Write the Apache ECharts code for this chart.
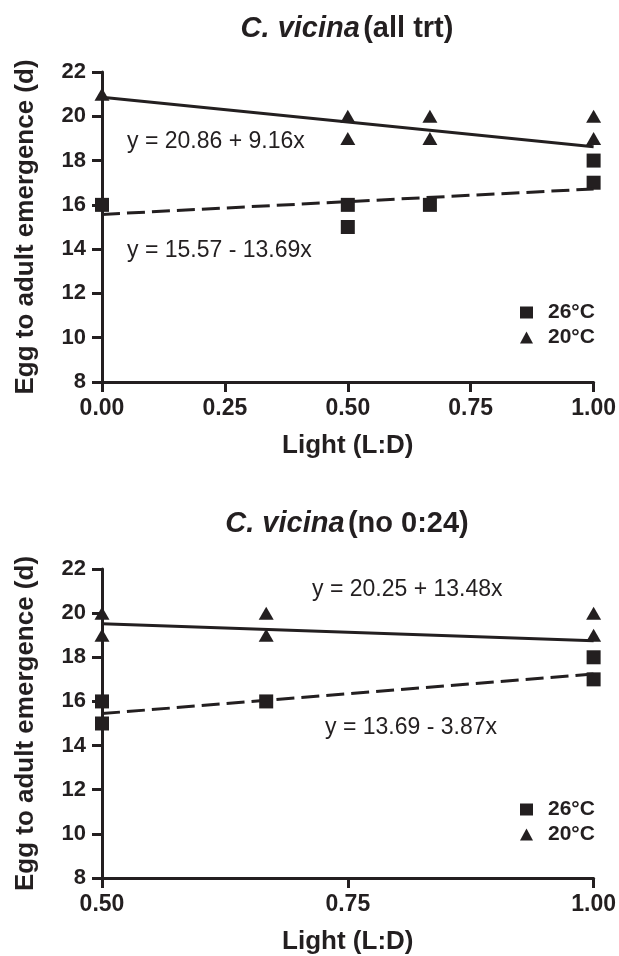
<!DOCTYPE html>
<html>
<head>
<meta charset="utf-8">
<script src="https://cdn.jsdelivr.net/npm/echarts@6/dist/echarts.min.js"></script>
<style>
html,body{margin:0;padding:0;background:#fff;}
#c{width:619px;height:956px;}
</style>
</head>
<body>
<div id="c"></div>
<script>
// ---- data ----
const seriesNames = ['26°C', '20°C'];
const topXTicks = [0, 0.25, 0.5, 0.75, 1];
const botXTicks = [0.5, 0.75, 1];
const yTicks = [8, 10, 12, 14, 16, 18, 20, 22];

const top26 = [[0,16],[0.5,16],[0.5,15],[0.667,16],[1,18],[1,17]];
const top20 = [[0,21],[0.5,20],[0.5,19],[0.667,20],[0.667,19],[1,20],[1,19]];
const topFit26 = [[0,15.57],[1,16.72]];
const topFit20 = [[0,20.86],[1,18.62]];

const bot26 = [[0.5,16],[0.5,15],[0.667,16],[1,18],[1,17]];
const bot20 = [[0.5,20],[0.5,19],[0.667,20],[0.667,19],[1,20],[1,19]];
const botFit26 = [[0.5,15.45],[1,17.24]];
const botFit20 = [[0.5,19.52],[1,18.75]];

const titles = [['C. vicina', '(all trt)'], ['C. vicina', '(no 0:24)']];
const eqTop = ['y = 20.86 + 9.16x', 'y = 15.57 - 13.69x'];
const eqBot = ['y = 20.25 + 13.48x', 'y = 13.69 - 3.87x'];
const xTitle = 'Light (L:D)';
const yTitle = 'Egg to adult emergence (d)';

// ---- chart ----
const ink = '#231f20';
const FONT = 'Liberation Sans, Arial, Helvetica, sans-serif';
const chart = echarts.init(document.getElementById('c'), null, {renderer: 'canvas'});

function xAxis(idx, min, max) {
  return {
    type: 'value', gridIndex: idx, min: min, max: max, interval: 0.25,
    axisLine: {show: true, onZero: false, lineStyle: {color: ink, width: 3}},
    axisTick: {show: true, length: 10, lineStyle: {color: ink, width: 3}},
    splitLine: {show: false},
    axisLabel: {color: ink, fontFamily: FONT, fontWeight: 'bold', fontSize: 23, margin: 15,
      formatter: v => v.toFixed(2)},
    name: xTitle, nameLocation: 'middle', nameGap: 51,
    nameTextStyle: {color: ink, fontFamily: FONT, fontWeight: 'bold', fontSize: 26}
  };
}
function yAxis(idx) {
  return {
    type: 'value', gridIndex: idx, min: yTicks[0], max: yTicks[yTicks.length-1], interval: 2,
    axisLine: {show: true, onZero: false, lineStyle: {color: ink, width: 3}},
    axisTick: {show: true, length: 10, lineStyle: {color: ink, width: 3}},
    splitLine: {show: false},
    axisLabel: {color: ink, fontFamily: FONT, fontWeight: 'bold', fontSize: 22, margin: 16},
    name: yTitle, nameLocation: 'middle', nameGap: 63,
    nameTextStyle: {color: ink, fontFamily: FONT, fontWeight: 'bold', fontSize: 26}
  };
}
function scatter(name, data, idx, symbol, size) {
  return {
    type: 'scatter', name: name, xAxisIndex: idx, yAxisIndex: idx, data: data,
    symbol: symbol, symbolSize: size, itemStyle: {color: ink, opacity: 1}, z: 3,
    silent: true
  };
}
function fit(data, idx, type) {
  return {
    type: 'line', xAxisIndex: idx, yAxisIndex: idx, data: data, showSymbol: false,
    symbol: 'none', lineStyle: {color: ink, width: 3, type: type}, z: 4, silent: true
  };
}
function legend(top) {
  return {
    orient: 'vertical', left: 515, top: top, itemWidth: 13, itemHeight: 12, itemGap: 4,
    selectedMode: false,
    textStyle: {color: ink, fontFamily: FONT, fontWeight: 'bold', fontSize: 21, padding: [0,0,0,10]},
    data: [
      {name: seriesNames[0], icon: 'rect'},
      {name: seriesNames[1], icon: 'triangle'}
    ]
  };
}
function titleText(t, y) {
  return {
    type: 'text', x: 347, y: y, z: 10,
    style: {
      text: '{i|' + t[0] + '} {b|' + t[1] + '}',
      align: 'center', verticalAlign: 'middle',
      rich: {
        i: {fontFamily: FONT, fontWeight: 'bold', fontStyle: 'italic', fontSize: 29, fill: ink},
        b: {fontFamily: FONT, fontWeight: 'bold', fontSize: 29, fill: ink}
      }
    }
  };
}
function eqText(t, x, y) {
  return {
    type: 'text', x: x, y: y, z: 10,
    style: {text: t, fontFamily: FONT, fontSize: 23, fill: ink, verticalAlign: 'middle'}
  };
}

const option = {
  backgroundColor: '#fff',
  animation: false,
  grid: [
    {left: 102, right: 25, top: 72, height: 310},
    {left: 102, right: 25, top: 569, height: 310}
  ],
  xAxis: [xAxis(0, topXTicks[0], topXTicks[topXTicks.length-1]), xAxis(1, botXTicks[0], botXTicks[botXTicks.length-1])],
  yAxis: [yAxis(0), yAxis(1)],
  legend: [legend(297), legend(794)],
  series: [
    scatter(seriesNames[0], top26, 0, 'rect', 14),
    scatter(seriesNames[1], top20, 0, 'triangle', [15, 13]),
    fit(topFit26, 0, [18, 7]),
    fit(topFit20, 0, 'solid'),
    scatter(seriesNames[0], bot26, 1, 'rect', 14),
    scatter(seriesNames[1], bot20, 1, 'triangle', [15, 13]),
    fit(botFit26, 1, [18, 7]),
    fit(botFit20, 1, 'solid')
  ],
  graphic: [
    titleText(titles[0], 29),
    titleText(titles[1], 524),
    eqText(eqTop[0], 127, 142),
    eqText(eqTop[1], 127, 251),
    eqText(eqBot[0], 312, 590),
    eqText(eqBot[1], 325, 728)
  ]
};
chart.setOption(option);
</script>
</body>
</html>
